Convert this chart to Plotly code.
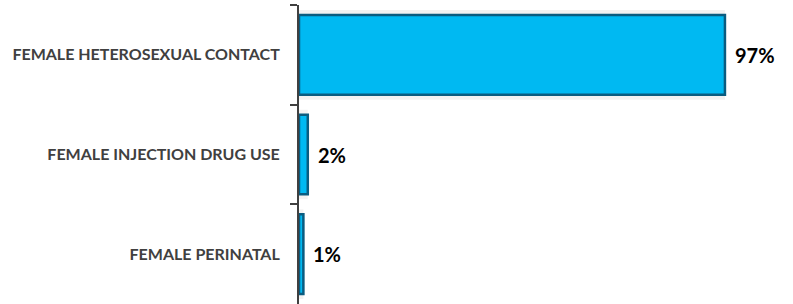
import plotly.graph_objects as go

categories = ["FEMALE HETEROSEXUAL CONTACT", "FEMALE INJECTION DRUG USE", "FEMALE PERINATAL"]
values = [97, 2, 1]
value_labels = ["97%", "2%", "1%"]

fig = go.Figure()
# soft shadow behind the bars
fig.add_trace(go.Bar(
    x=values, y=categories, orientation="h", width=0.9,
    marker=dict(color="rgba(0,0,0,0.05)", line=dict(width=0)),
    hoverinfo="skip",
))
fig.add_trace(go.Bar(
    x=values, y=categories, orientation="h", width=0.8,
    marker=dict(color="#00B9F2", line=dict(color="#0A5C80", width=2.5)),
    hoverinfo="skip",
))
for v, c, t in zip(values, categories, value_labels):
    fig.add_annotation(x=v, y=c, text="<b>" + t + "</b>", showarrow=False, xanchor="left", xshift=7,
                       bgcolor="white", font=dict(family="Lato", size=20, color="#000000"),
                       borderpad=2)

fig.update_layout(
    width=793, height=304,
    margin=dict(l=299, r=0, t=5, b=0, autoexpand=False),
    paper_bgcolor="white", plot_bgcolor="white",
    showlegend=False, barmode="overlay",
    font=dict(family="Lato"),
    xaxis=dict(range=[0, 112.5], visible=False, showgrid=False, zeroline=False, automargin=False),
    yaxis=dict(autorange="reversed", showline=True, linecolor="#404040", linewidth=2,
               ticks="outside", ticklen=7, tickcolor="#404040", tickwidth=2,
               tickson="boundaries", showgrid=False, zeroline=False, automargin=False,
               tickfont=dict(family="Lato", size=16, color="#404040", weight="bold"),
               ticklabelstandoff=14),
)
fig.write_html("out.html", config={"displayModeBar": False},
               post_script="document.body.style.margin='0';")
